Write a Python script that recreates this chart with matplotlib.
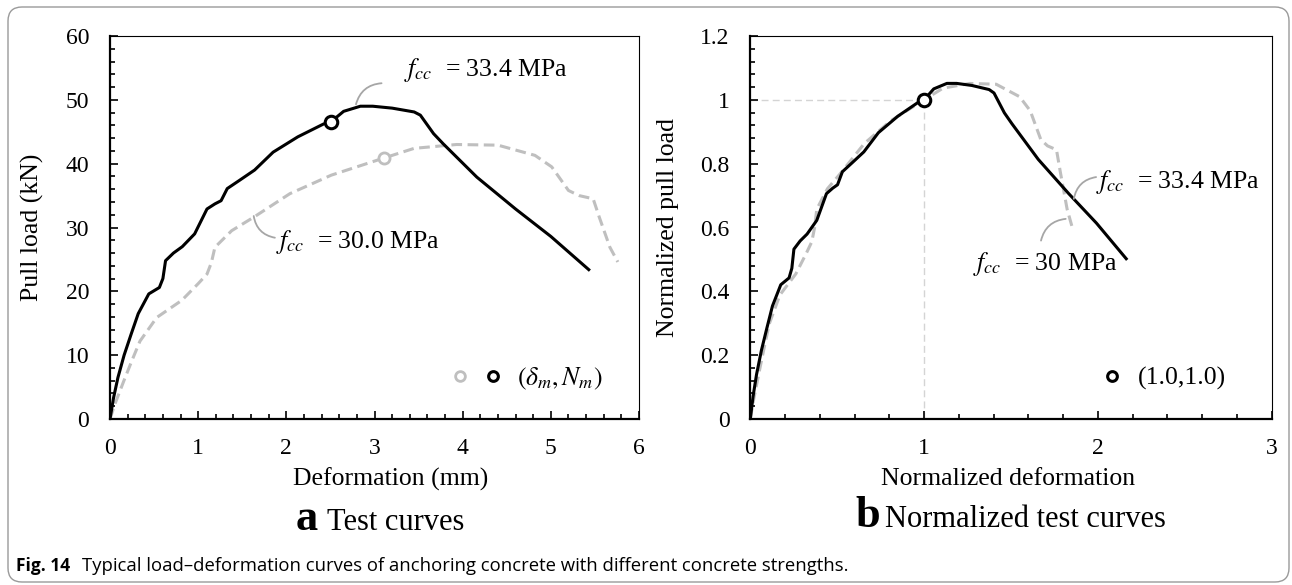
import matplotlib
matplotlib.use("Agg")
import matplotlib.pyplot as plt
import numpy as np
from matplotlib.lines import Line2D
from matplotlib.legend_handler import HandlerTuple
from matplotlib.patches import FancyBboxPatch
from matplotlib.ticker import MultipleLocator, FuncFormatter
from matplotlib.transforms import IdentityTransform

plt.rcParams['font.family'] = ['Liberation Serif', 'DejaVu Serif']
plt.rcParams['mathtext.fontset'] = 'stix'

# specimen fcc = 33.4 MPa (black)
defl_a = [0, 0.04, 0.09, 0.16, 0.24, 0.32, 0.44, 0.50, 0.56, 0.60, 0.63, 0.72, 0.82,
          0.96, 1.10, 1.19, 1.26, 1.33, 1.47, 1.64, 1.85, 2.13, 2.42, 2.51, 2.65,
          2.84, 2.98, 3.20, 3.45, 3.52, 3.67, 3.78, 4.16, 4.60, 5.00, 5.43]
load_a = [0, 3.3, 6.5, 10.0, 13.3, 16.5, 19.6, 20.1, 20.6, 22.0, 24.8, 26.0, 27.0,
          29.0, 32.9, 33.7, 34.2, 36.1, 37.4, 39.0, 41.8, 44.2, 46.2, 46.6, 48.2,
          49.0, 49.0, 48.7, 48.1, 47.6, 44.7, 43.1, 37.9, 32.9, 28.6, 23.4]
peak_a = (2.51, 46.6)

# specimen fcc = 30.0 MPa (grey)
defl_b = [0, 0.06, 0.155, 0.25, 0.34, 0.53, 0.815, 1.00, 1.10, 1.15, 1.19, 1.38,
          1.64, 2.04, 2.51, 3.11, 3.45, 3.93, 4.40, 4.82, 5.01, 5.20, 5.32, 5.48,
          5.55, 5.67, 5.76]
load_b = [0, 2.5, 5.9, 9.2, 12.2, 15.9, 18.6, 21.2, 22.7, 24.5, 26.9, 29.5,
          31.7, 35.3, 38.2, 40.9, 42.4, 43.0, 42.9, 41.3, 39.5, 35.8, 35.0, 34.5,
          31.6, 26.9, 24.6]
peak_b = (3.11, 40.9)

# normalized by (delta_m, N_m)
nx_a = np.array(defl_a) / peak_a[0]
ny_a = np.array(load_a) / peak_a[1]
nx_b = np.array(defl_b) / peak_b[0]
ny_b = np.array(load_b) / peak_b[1]

grey = '#bfbfbf'
lead = '#a6a6a6'
fs_tick = 17
fs_lab = 18.5

fig = plt.figure(figsize=(12.92, 5.85), dpi=100)
W, H = 1292, 585

frame = FancyBboxPatch((8, 3), 1281, 575, boxstyle="round,pad=0,rounding_size=14",
                       transform=IdentityTransform(), facecolor='none',
                       edgecolor='#9a9a9a', lw=1.0)
fig.patches.append(frame)

ax1 = fig.add_axes([110/W, 1-419/H, 529/W, 383/H])
ax2 = fig.add_axes([750.3/W, 1-419/H, 521.3/W, 383/H])

def style(ax, xmaj, xmin, ymaj, ymin):
    ax.xaxis.set_major_locator(MultipleLocator(xmaj))
    ax.xaxis.set_minor_locator(MultipleLocator(xmin))
    ax.yaxis.set_major_locator(MultipleLocator(ymaj))
    ax.yaxis.set_minor_locator(MultipleLocator(ymin))
    fmt = FuncFormatter(lambda v, p: f"{v:g}")
    ax.xaxis.set_major_formatter(fmt)
    ax.yaxis.set_major_formatter(fmt)
    ax.tick_params(which='both', direction='in', top=False, right=False, width=1.2)
    ax.tick_params(which='major', length=6, labelsize=fs_tick)
    ax.tick_params(which='minor', length=3.5)
    ax.tick_params(axis='x', which='major', pad=14)
    ax.tick_params(axis='y', which='major', pad=15)
    for s in ['left', 'bottom']:
        ax.spines[s].set_linewidth(1.6)
    for s in ['top', 'right']:
        ax.spines[s].set_linewidth(0.8)

# ---- (a) test curves
ax1.plot(defl_b, load_b, color=grey, lw=2.2, ls=(0, (3.5, 1.8)), zorder=2)
ax1.plot(defl_a, load_a, color='black', lw=2.2, zorder=3)
ax1.plot(*peak_b, 'o', ms=8, mfc='white', mec=grey, mew=2, zorder=4)
ax1.plot(*peak_a, 'o', ms=9, mfc='white', mec='black', mew=2.2, zorder=4)
ax1.set_xlim(0, 6)
ax1.set_ylim(0, 60)
style(ax1, 1, 0.2, 10, 2)
ax1.set_xlabel("Deformation (mm)", fontsize=fs_lab)
ax1.set_ylabel("Pull load (kN)", fontsize=fs_lab)
ax1.xaxis.set_label_coords(0.531, -0.128)
ax1.yaxis.set_label_coords(-0.125, 0.5)

ax1.text(3.34, 54.7, r"$f_{cc}$  = 33.4 MPa", fontsize=fs_lab, va='center')
ax1.annotate("", xy=(2.79, 49.3), xytext=(3.08, 52.6),
             arrowprops=dict(arrowstyle='-', color=lead, lw=1.3,
                             connectionstyle='arc3,rad=0.35', shrinkA=0, shrinkB=0))
ax1.text(1.88, 27.7, r"$f_{cc}$  = 30.0 MPa", fontsize=fs_lab, va='center')
ax1.annotate("", xy=(1.63, 31.8), xytext=(1.87, 28.4),
             arrowprops=dict(arrowstyle='-', color=lead, lw=1.3,
                             connectionstyle='arc3,rad=-0.35', shrinkA=0, shrinkB=0))

hg = Line2D([], [], marker='o', ls='none', ms=7, mfc='white', mec=grey, mew=2)
hk = Line2D([], [], marker='o', ls='none', ms=7, mfc='white', mec='black', mew=2.2)
ax1.legend([(hg, hk)], [r"$(\delta_m, N_m)$"],
           handler_map={tuple: HandlerTuple(ndivide=None, pad=0.4)},
           frameon=False, loc='center right', bbox_to_anchor=(0.932, 0.105),
           handlelength=2.2, handletextpad=0.5, borderpad=0, borderaxespad=0,
           fontsize=fs_lab)

# ---- (b) normalized test curves
ax2.plot([0, 1], [1, 1], color='#d4d4d4', lw=1.0, ls=(0, (5, 3)), zorder=1)
ax2.plot([1, 1], [0, 1], color='#d4d4d4', lw=1.0, ls=(0, (5, 3)), zorder=1)
ax2.plot(nx_b, ny_b, color=grey, lw=2.2, ls=(0, (3.5, 1.8)), zorder=2)
ax2.plot(nx_a, ny_a, color='black', lw=2.2, zorder=3)
ax2.plot(1.0, 1.0, 'o', ms=9, mfc='white', mec='black', mew=2.2, zorder=4)
ax2.set_xlim(0, 3)
ax2.set_ylim(0, 1.2)
style(ax2, 1, 0.2, 0.2, 0.04)
ax2.set_xlabel("Normalized deformation", fontsize=fs_lab)
ax2.set_ylabel("Normalized pull load", fontsize=fs_lab)
ax2.xaxis.set_label_coords(0.494, -0.128)
ax2.yaxis.set_label_coords(-0.137, 0.5)

ax2.text(1.99, 0.742, r"$f_{cc}$  = 33.4 MPa", fontsize=fs_lab, va='center')
ax2.annotate("", xy=(1.862, 0.69), xytext=(1.99, 0.758),
             arrowprops=dict(arrowstyle='-', color=lead, lw=1.3,
                             connectionstyle='arc3,rad=0.35', shrinkA=0, shrinkB=0))
ax2.text(1.284, 0.486, r"$f_{cc}$  = 30 MPa", fontsize=fs_lab, va='center')
ax2.annotate("", xy=(1.815, 0.627), xytext=(1.673, 0.559),
             arrowprops=dict(arrowstyle='-', color=lead, lw=1.3,
                             connectionstyle='arc3,rad=-0.35', shrinkA=0, shrinkB=0))

hk2 = Line2D([], [], marker='o', ls='none', ms=7, mfc='white', mec='black', mew=2.2)
ax2.legend([hk2], ["(1.0,1.0)"], frameon=False, loc='center right',
           bbox_to_anchor=(0.912, 0.106), handlelength=1.0, handletextpad=0.5,
           borderpad=0, borderaxespad=0, fontsize=fs_lab)

# ---- sub captions
fig.text(296/W, 1-530/H, "a", fontsize=32, fontweight='bold', va='baseline')
fig.text(327/W, 1-530/H, "Test curves", fontsize=22, va='baseline')
fig.text(855/W, 1-527/H, "b", fontsize=32, fontweight='bold', va='baseline')
fig.text(885/W, 1-527/H, "Normalized test curves", fontsize=22, va='baseline')

# ---- figure caption
fig.text(16/W, 1-571/H, "Fig. 14", fontsize=12.5, fontweight='bold',
         family='Open Sans', va='baseline')
fig.text(82/W, 1-571/H,
         "Typical load\u2013deformation curves of anchoring concrete with different concrete strengths.",
         fontsize=13.3, family='Open Sans', va='baseline')

fig.savefig("out.png", dpi=100)
